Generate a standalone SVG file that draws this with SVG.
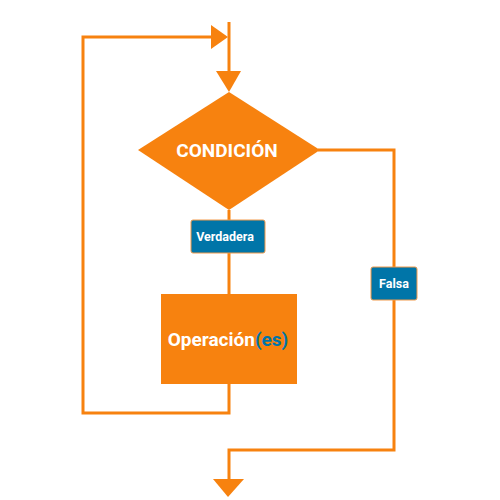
<svg xmlns="http://www.w3.org/2000/svg" width="500" height="500" viewBox="0 0 500 500">
<style>
.ln{fill:none;stroke:#F7820F;stroke-width:3}
.ah{fill:#F7820F}
.shape{fill:#F7820F}
.lbl{fill:#0075A8;stroke:#F29A4A;stroke-width:1}
.t{font-family:Roboto,"Liberation Sans",sans-serif;font-weight:bold;fill:#FFFFFF;text-anchor:middle}
</style>
<rect width="500" height="500" fill="#FFFFFF"/>
<g id="connectors">
<polyline class="ln" points="229,22 229,74"/>
<polygon class="ah" points="216,71 241,71 229,92"/>
<polyline class="ln" points="229,210 229,294"/>
<polyline class="ln" points="229,384 229,413 83,413 83,37 214,37"/>
<polygon class="ah" points="211,25 228,37 211,49"/>
<polyline class="ln" points="318,150 394,150 394,450 229,450 229,481"/>
<polygon class="ah" points="213,479 244,479 228,497"/>
</g>
<g id="condicion">
<polygon class="shape" points="229,92 320,150 229,210 138,150"/>
<text class="t" x="227" y="157" font-size="19">CONDICIÓN</text>
</g>
<g id="verdadera">
<rect class="lbl" x="191" y="220" width="74" height="33" rx="2"/>
<text class="t" x="225" y="241" font-size="12.5">Verdadera</text>
</g>
<g id="operacion">
<rect class="shape" x="161" y="294" width="136" height="90"/>
<text class="t" x="228" y="346" font-size="19">Operación<tspan fill="#0075A8">(es)</tspan></text>
</g>
<g id="falsa">
<rect class="lbl" x="371" y="267" width="46" height="33" rx="2"/>
<text class="t" x="394" y="288" font-size="12.5">Falsa</text>
</g>
</svg>
